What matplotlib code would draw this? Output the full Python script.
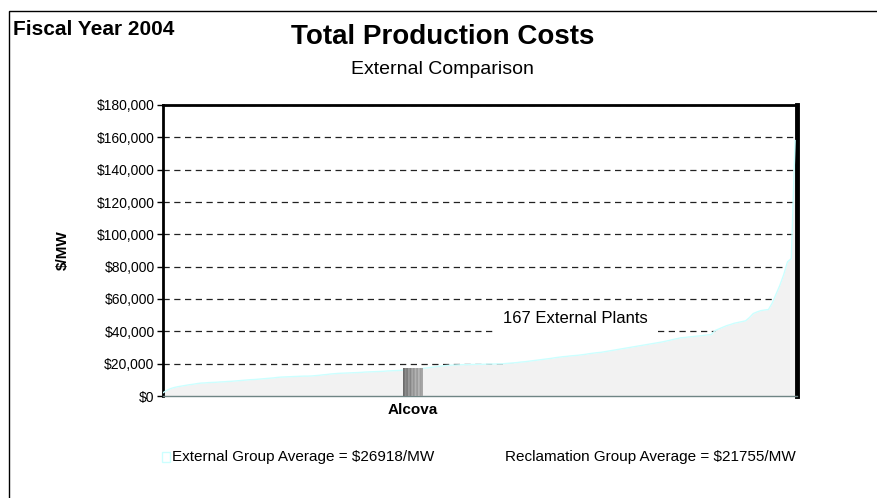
import numpy as np
import matplotlib
matplotlib.use('Agg')
import matplotlib.pyplot as plt
from matplotlib.patches import Rectangle
from matplotlib.ticker import FuncFormatter

plt.rcParams['font.family'] = ['Liberation Sans', 'DejaVu Sans']

# 167 external plants, sorted production cost ($/MW)
external_costs = [
    2000, 3500, 4600, 5300, 5800, 6200, 6600, 7000, 7300, 7700,
    8000, 8100, 8300, 8400, 8500, 8700, 8800, 9000, 9100, 9300,
    9500, 9700, 9900, 10100, 10200, 10400, 10600, 10800, 11000, 11200,
    11500, 11700, 11800, 11900, 12000, 12100, 12200, 12300, 12300, 12400,
    12600, 12800, 13100, 13300, 13600, 13800, 14000, 14100, 14200, 14300,
    14400, 14500, 14600, 14800, 14900, 15000, 15100, 15200, 15300, 15500,
    15600, 15700, 15800, 16000, 16200, 16400, 16600, 16800, 17000, 17300,
    17600, 17900, 18200, 18500, 18800, 19000, 19100, 19200, 19300, 19400,
    19400, 19500, 19500, 19600, 19600, 19700, 19800, 19800, 19900, 19900,
    20100, 20300, 20500, 20700, 21000, 21200, 21500, 21800, 22100, 22400,
    22700, 23000, 23300, 23700, 24000, 24300, 24500, 24800, 25000, 25200,
    25500, 25800, 26200, 26500, 26800, 27000, 27400, 27800, 28200, 28600,
    29000, 29400, 29800, 30200, 30600, 31000, 31400, 31800, 32200, 32600,
    33000, 33400, 33900, 34400, 35000, 35500, 36000, 36200, 36500, 36700,
    37000, 37200, 37500, 37800, 38000, 40500, 41500, 42500, 43500, 44200,
    45000, 45500, 46000, 46500, 48500, 51000, 52000, 52800, 53200, 53500,
    57500, 63000, 68500, 75000, 83000, 85000, 158000,
]
alcova_position = 65.5
alcova_cost = 17300
external_avg = 26918
reclamation_avg = 21755

W, H = 877, 498
fig = plt.figure(figsize=(W / 100, H / 100), dpi=100)
ax = fig.add_axes([163 / W, 1 - 396 / H, (797 - 163) / W, (396 - 105) / H])

x = np.arange(len(external_costs))
ax.fill_between(x, external_costs, 0, color='#f2f2f2', lw=0, zorder=2)
ax.plot(x, external_costs, color='#ccffff', lw=1, zorder=3)

# Alcova bar with striped gray shading
bar = ax.bar(alcova_position, alcova_cost, width=5, color='#8c8c8c', lw=0, zorder=4)[0]
stripes = np.array([[0.42, 0.55, 0.48, 0.62, 0.52, 0.66, 0.58, 0.70, 0.60, 0.72, 0.62, 0.66]])
img = ax.imshow(stripes, cmap='gray', vmin=0, vmax=1, aspect='auto', zorder=5,
                extent=[bar.get_x(), bar.get_x() + bar.get_width(), 0, alcova_cost])
img.set_clip_path(bar)

ax.set_xlim(0, 166.5)
ax.set_ylim(0, 180000)
ax.set_yticks(np.arange(0, 180001, 20000))
ax.yaxis.set_major_formatter(FuncFormatter(lambda v, p: f'${v:,.0f}'))
ax.set_xticks([alcova_position])
ax.set_xticklabels(['Alcova'], fontweight='bold', fontsize=11)
ax.tick_params(axis='x', length=0, pad=5)
ax.tick_params(axis='y', length=4, width=1, direction='out', labelsize=10, pad=2)

ax.set_axisbelow(True)
ax.yaxis.grid(True, color='#222222', lw=0.9, linestyle=(0, (5, 3.6)))
ax.set_ylabel('$/MW', fontweight='bold', fontsize=11, labelpad=19)

for side, lw in [('left', 2), ('top', 2), ('right', 3.5)]:
    ax.spines[side].set_linewidth(lw)
    ax.spines[side].set_color('black')
ax.spines['bottom'].set_color('#6f8585')
ax.spines['bottom'].set_linewidth(1)

ax.text(0.536, 0.268, '167 External Plants', transform=ax.transAxes, fontsize=12,
        va='center', ha='left', zorder=6,
        bbox=dict(facecolor='white', edgecolor='none', pad=5))

# titles
fig.text(13 / W, 1 - 29 / H, 'Fiscal Year 2004', fontsize=15, fontweight='bold', va='center')
fig.text(0.505, 1 - 37 / H, 'Total Production Costs', fontsize=20, fontweight='bold',
         ha='center', va='center')
fig.text(0.505, 1 - 70 / H, 'External Comparison', fontsize=14, ha='center', va='center')

# legend line
fig.patches.append(Rectangle((162 / W, 1 - 462 / H), 8 / W, 10 / H, transform=fig.transFigure,
                             facecolor='white', edgecolor='#ccffff', lw=1))
fig.text(172 / W, 1 - 457 / H, f'External Group Average = ${external_avg}/MW', fontsize=11, va='center')
fig.text(505 / W, 1 - 457 / H, f'Reclamation Group Average = ${reclamation_avg}/MW', fontsize=11, va='center')

# chart border
fig.patches.append(Rectangle((9 / W, -0.1), 1.2, 1.1 - 11 / H, transform=fig.transFigure,
                             facecolor='none', edgecolor='black', lw=1))

fig.savefig('out.png', dpi=100)
